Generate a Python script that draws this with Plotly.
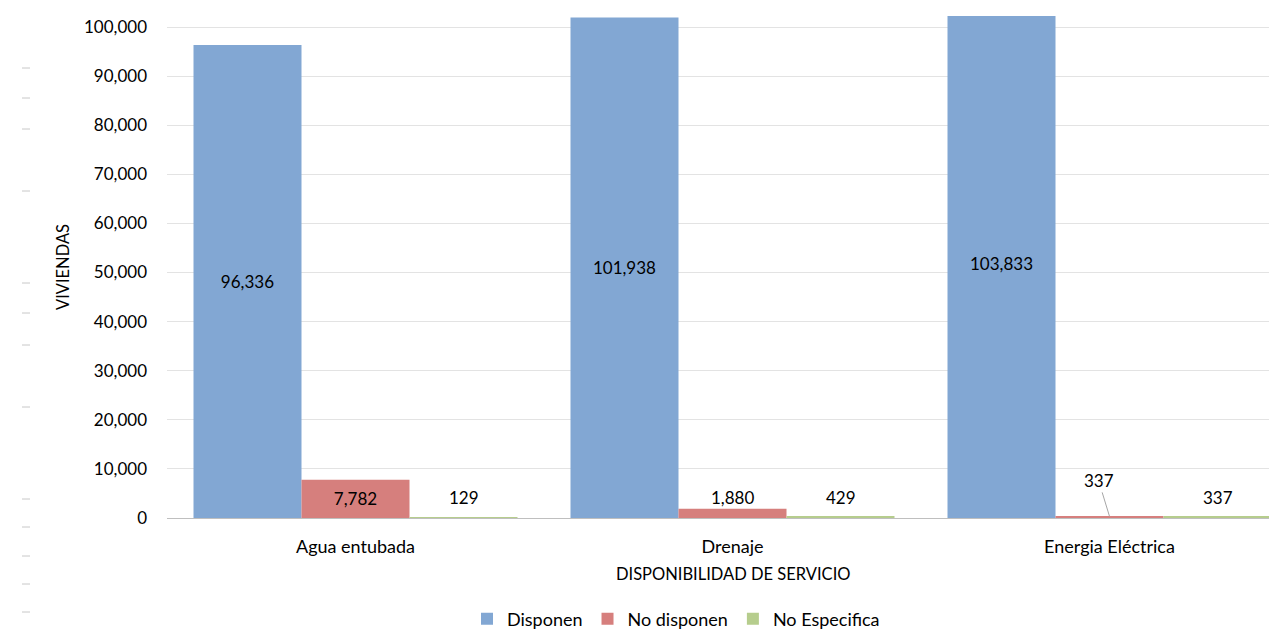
import plotly.graph_objects as go

# ---- data ----
categories = ["Agua entubada", "Drenaje", "Energia Eléctrica"]
series_names = ["Disponen", "No disponen", "No Especifica"]
disponen = [96336, 101938, 103833]
no_disponen = [7782, 1880, 337]
no_especifica = [129, 429, 337]
y_ticks = list(range(0, 100001, 10000))

colors = ["#82a7d3", "#d67f7d", "#b6cd8d"]
FONT = "Lato"
TXT = "#000000"
OFF = 8  # page body margin offset
W, H = 1277, 631
# plot area in page pixels: left 166.5, top 16, bottom 518
L = 159
T = 16 - OFF
B = H - (518 - OFF)
R = 0
plot_w = W - L - R
plot_h = H - T - B
bargap = 0.1406
bw = (1 - bargap) / 3
x_max = -0.5 + plot_w / 377.0

fig = go.Figure()
series = [disponen, no_disponen, no_especifica]
inside_mask = [[True, True, True], [True, False, False], [False, False, False]]
for k, (name, vals) in enumerate(zip(series_names, series)):
    fig.add_trace(go.Bar(
        name=name, x=categories, y=vals,
        marker=dict(color=colors[k], line=dict(width=0)),
        text=[f"{v:,}" if inside_mask[k][i] else "" for i, v in enumerate(vals)],
        textposition="inside", insidetextanchor="middle",
        textfont=dict(family=FONT, size=17, color=TXT),
        cliponaxis=True,
    ))

annotations = []
for k, vals in enumerate(series):
    for i, v in enumerate(vals):
        if inside_mask[k][i]:
            continue
        xpos = i + (k - 1) * bw
        if k == 1 and i == 2:
            annotations.append(dict(
                x=xpos, y=v, xref="x", yref="y", text=f"{v:,}",
                showarrow=True, arrowhead=0, arrowwidth=1, arrowcolor="#a6a6a6",
                ax=-11, ay=-36, standoff=0,
                font=dict(family=FONT, size=17, color=TXT)))
        else:
            annotations.append(dict(
                x=xpos, y=0, xref="x", yref="y", text=f"{v:,}",
                showarrow=False, yshift=21, yanchor="middle",
                font=dict(family=FONT, size=17, color=TXT)))

annotations.append(dict(
    x=1, y=0, xref="x", yref="paper", text="DISPONIBILIDAD DE SERVICIO",
    showarrow=False, yshift=-56, yanchor="middle",
    font=dict(family=FONT, size=16.5, color=TXT)))

# stray dash marks at the left edge of the source image (page pixel positions)
dash_px = [68, 98, 129, 191, 283, 313, 345, 407, 499, 527, 556, 584, 612]
shapes = []
for py in dash_px:
    yy = ((518 - OFF) - (py - OFF)) / plot_h
    shapes.append(dict(
        type="line", xref="paper", yref="paper",
        x0=(22 - OFF - L) / plot_w, x1=(30 - OFF - L) / plot_w,
        y0=yy, y1=yy,
        line=dict(color="#c8c8c8", width=1)))

fig.update_layout(
    width=W, height=H,
    margin=dict(l=L, r=R, t=T, b=B, pad=0, autoexpand=False),
    paper_bgcolor="white", plot_bgcolor="white",
    barmode="group", bargap=bargap, bargroupgap=0,
    font=dict(family=FONT, size=17, color=TXT),
    legend=dict(orientation="h", x=(676 - OFF - L) / plot_w, xanchor="center",
                y=-(619 - 518) / plot_h, yanchor="middle",
                font=dict(family=FONT, size=18, color=TXT),
                itemwidth=30, traceorder="normal"),
    annotations=annotations,
    shapes=shapes,
)
fig.update_xaxes(
    range=[-0.5, x_max], showgrid=False, showline=True, linecolor="#bfbfbf",
    linewidth=1, ticks="", ticklabelstandoff=12,
    tickfont=dict(family=FONT, size=18, color=TXT),
)
fig.update_yaxes(
    range=[0, 102240], tickvals=y_ticks, tickformat=",",
    showgrid=True, gridcolor="#e3e3e3", gridwidth=1, zeroline=False,
    ticks="", ticklabelstandoff=19,
    tickfont=dict(family=FONT, size=17, color=TXT),
    title=dict(text="VIVIENDAS", standoff=10,
               font=dict(family=FONT, size=16.5, color=TXT)),
)

fig.write_html("out.html")
